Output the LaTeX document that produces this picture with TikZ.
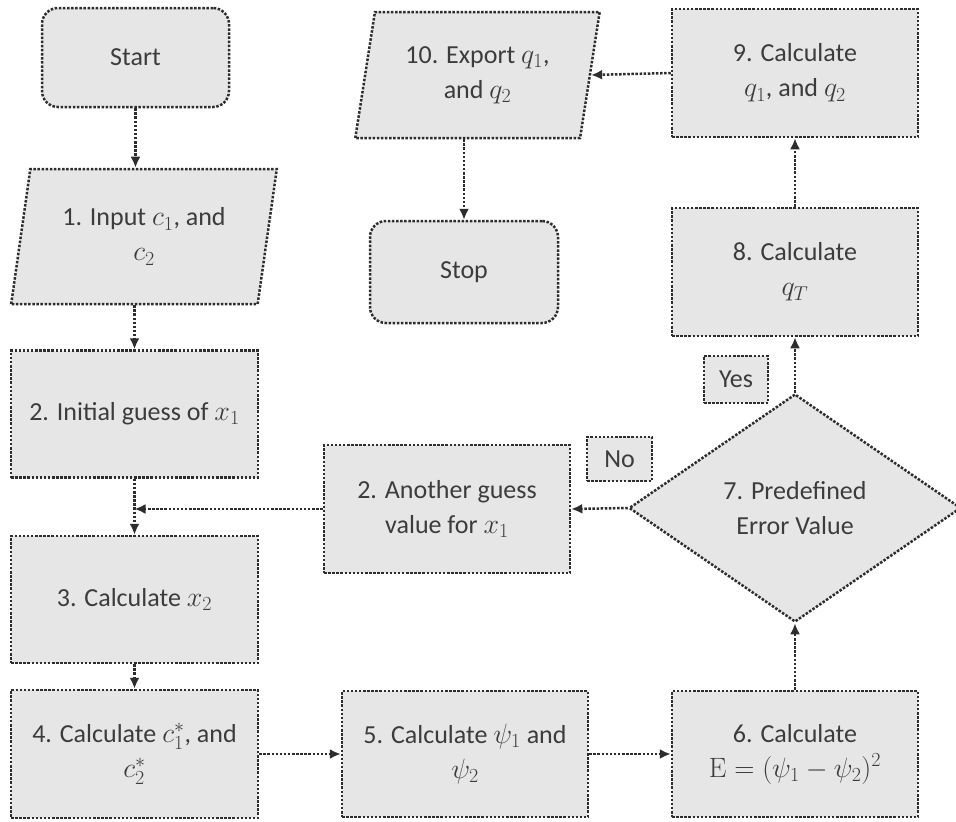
\RequirePackage{fix-cm}
\documentclass[tikz,border=0pt]{standalone}
\usepackage[no-math]{fontspec}
\setmainfont{Carlito}
\usetikzlibrary{shapes.geometric,arrows.meta}
\DeclareMathSizes{26}{28}{20}{15}
\definecolor{boxfill}{RGB}{230,230,231}
\definecolor{boxline}{RGB}{45,45,45}
\definecolor{txt}{RGB}{60,60,60}
\tikzset{
  dots/.style={line width=2.5pt, dash pattern=on 2.5pt off 1.6pt},
  base/.style={draw=boxline, dots, fill=boxfill, text=txt, align=center,
    inner sep=0pt, font=\fontsize{26}{35}\selectfont},
  proc/.style={base, rectangle, minimum width=247pt, minimum height=127pt},
  term/.style={base, rectangle, rounded corners=16pt},
  io/.style={base, trapezium, trapezium left angle=76.5, trapezium right angle=103.5,
    trapezium stretches=true},
  dec/.style={base, diamond, minimum width=332pt, minimum height=228pt},
  lab/.style={base, rectangle, minimum width=64pt, minimum height=46pt},
  arr/.style={draw=boxline, dots, -{Latex[length=11pt,width=10pt]}}
}
\begin{document}
\begin{tikzpicture}[x=1pt,y=-1pt]
\useasboundingbox (0,0) rectangle (956,822);
\node[term, minimum width=187pt, minimum height=99pt] (start) at (135.5,57.5) {Start};
\node[io, minimum width=266pt, minimum height=135pt] (inp) at (144,236.5) {1. Input $c_1$, and\\ $c_2$};
\node[proc] (b2) at (134.5,414) {2. Initial guess of $x_1$};
\node[proc] (b3) at (134.5,599.5) {3. Calculate $x_2$};
\node[proc, minimum height=128pt] (b4) at (134.5,754) {4. Calculate $c_1^*$, and\\ $c_2^*$};
\node[proc, minimum width=246pt, minimum height=126pt] (b5) at (465,754) {5. Calculate $\psi_1$ and\\ $\psi_2$};
\node[proc, minimum width=246pt, minimum height=126pt] (b6) at (795,754) {6. Calculate\\ $\mathrm{E}=(\psi_1-\psi_2)^2$};
\node[dec] (dia) at (795,508) {7. Predefined\\ Error Value};
\node[proc, minimum width=246pt, minimum height=128pt] (ag) at (447,509) {2. Another guess\\ value for $x_1$};
\node[lab, minimum width=65pt, minimum height=44pt] (no) at (619.5,459) {No};
\node[lab, minimum height=47pt] (yes) at (736,379.5) {Yes};
\node[proc, minimum width=246pt, minimum height=128pt] (b8) at (795,272) {8. Calculate\\ $q_T$};
\node[proc, minimum width=246pt, minimum height=128pt] (b9) at (795,73) {9. Calculate\\ $q_1$, and $q_2$};
\node[io, minimum width=245pt, minimum height=126pt] (exp) at (477.5,75) {10. Export $q_1$,\\ and $q_2$};
\node[term, minimum width=188pt, minimum height=102pt] (stop) at (464,272) {Stop};
\coordinate (j) at (b2.south |- ag.west);
\draw[arr] (start.south) -- (start.south |- inp.north);
\draw[arr] (b2.north |- inp.south) -- (b2.north);
\draw[arr] (b2.south) -- (b3.north);
\draw[arr] (ag.west) -- (j);
\draw[arr] (b3.south) -- (b4.north);
\draw[arr] (b4.east) -- (b5.west);
\draw[arr] (b5.east) -- (b6.west);
\draw[arr] (b6.north) -- (dia.south);
\draw[arr] (dia.west) -- (ag.east);
\draw[arr] (dia.north) -- (b8.south);
\draw[arr] (b8.north) -- (b9.south);
\draw[arr] (b9.west) -- (exp.east);
\draw[arr] (stop.north |- exp.south) -- (stop.north);
\end{tikzpicture}
\end{document}
